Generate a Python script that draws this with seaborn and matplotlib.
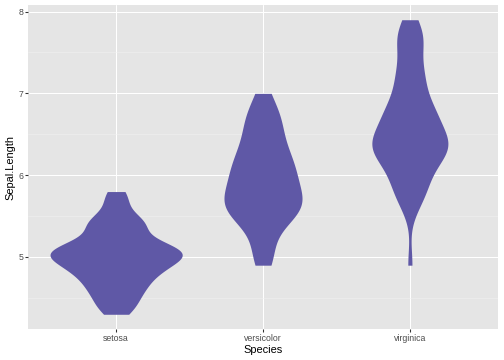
import matplotlib
matplotlib.use("Agg")
import matplotlib.pyplot as plt
import seaborn as sns
import pandas as pd
import numpy as np

# iris Sepal.Length by species
setosa = [5.1, 4.9, 4.7, 4.6, 5.0, 5.4, 4.6, 5.0, 4.4, 4.9, 5.4, 4.8, 4.8, 4.3, 5.8, 5.7, 5.4,
          5.1, 5.7, 5.1, 5.4, 5.1, 4.6, 5.1, 4.8, 5.0, 5.0, 5.2, 5.2, 4.7, 4.8, 5.4, 5.2, 5.5,
          4.9, 5.0, 5.5, 4.9, 4.4, 5.1, 5.0, 4.5, 4.4, 5.0, 5.1, 4.8, 5.1, 4.6, 5.3, 5.0]
versicolor = [7.0, 6.4, 6.9, 5.5, 6.5, 5.7, 6.3, 4.9, 6.6, 5.2, 5.0, 5.9, 6.0, 6.1, 5.6, 6.7, 5.6,
              5.8, 6.2, 5.6, 5.9, 6.1, 6.3, 6.1, 6.4, 6.6, 6.8, 6.7, 6.0, 5.7, 5.5, 5.5, 5.8, 6.0,
              5.4, 6.0, 6.7, 6.3, 5.6, 5.5, 5.5, 6.1, 5.8, 5.0, 5.6, 5.7, 5.7, 6.2, 5.1, 5.7]
virginica = [6.3, 5.8, 7.1, 6.3, 6.5, 7.6, 4.9, 7.3, 6.7, 7.2, 6.5, 6.4, 6.8, 5.7, 5.8, 6.4, 6.5,
             7.7, 7.7, 6.0, 6.9, 5.6, 7.7, 6.3, 6.7, 7.2, 6.2, 6.1, 6.4, 7.2, 7.4, 7.9, 6.4, 6.3,
             6.1, 7.7, 6.3, 6.4, 6.0, 6.9, 6.7, 6.9, 5.8, 6.8, 6.7, 6.7, 6.3, 6.5, 6.2, 5.9]
species = ["setosa", "versicolor", "virginica"]
y_ticks = [5, 6, 7, 8]
y_minor = [4.5, 5.5, 6.5, 7.5]

df = pd.DataFrame({
    "Species": ["setosa"] * len(setosa) + ["versicolor"] * len(versicolor) + ["virginica"] * len(virginica),
    "Sepal.Length": setosa + versicolor + virginica,
})


def nrd0(kde):
    # R's default bandwidth, expressed as a factor on the sample sd
    x = np.asarray(kde.dataset).ravel()
    sd = x.std(ddof=1)
    iqr = np.subtract(*np.percentile(x, [75, 25]))
    h = 0.9 * min(sd, iqr / 1.34) * len(x) ** -0.2
    return h / sd


sns.set_theme(style="darkgrid")
plt.rcParams["font.family"] = ["Liberation Sans", "DejaVu Sans"]

fig = plt.figure(figsize=(7, 5), dpi=72)
ax = fig.add_axes([28 / 504, 31 / 360, 470 / 504, 324 / 360])
ax.set_facecolor("#E5E5E5")

sns.violinplot(data=df, x="Species", y="Sepal.Length", order=species,
               color="#5F58A6", saturation=1, linewidth=0, inner=None,
               cut=0, density_norm="area", width=0.9, gridsize=512,
               bw_method=nrd0, ax=ax)

ax.set_xlim(-0.6, 2.6)
ax.set_ylim(4.12, 8.08)
ax.set_yticks(y_ticks)
ax.set_yticks(y_minor, minor=True)
ax.grid(False)
ax.grid(which="major", color="white", linewidth=1.07)
ax.grid(which="minor", axis="y", color="#F2F2F2", linewidth=0.53)
ax.set_axisbelow(True)
for s in ax.spines.values():
    s.set_visible(False)

ax.tick_params(which="major", direction="out", length=2.75, width=1.07, color="#333333",
               labelsize=8.8, labelcolor="#4D4D4D", pad=2.2, bottom=True, left=True)
ax.tick_params(which="minor", length=0)
ax.set_xlabel("Species", fontsize=11, color="black", labelpad=2.5)
ax.set_ylabel("Sepal.Length", fontsize=11, color="black", labelpad=2.5)

fig.savefig("out.png", dpi=72)
